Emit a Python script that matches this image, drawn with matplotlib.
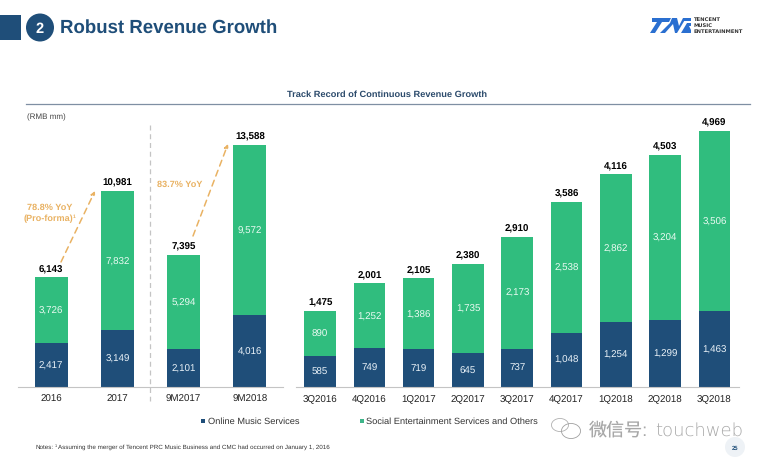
import matplotlib
matplotlib.use('Agg')
import matplotlib.pyplot as plt
from matplotlib.patches import Circle, Polygon, Rectangle, Arc

plt.rcParams['font.family'] = ['Liberation Sans', 'Noto Sans CJK SC', 'DejaVu Sans']
plt.rcParams['text.hinting'] = 'no_hinting'

W, H = 769, 464
NAVY = '#1f4e79'
GREEN = '#30bd7e'
GOLD = '#e9b263'
GREY = '#c4c4c4'

annual_labels = ['2016', '2017', '9M2017', '9M2018']
annual_music = [2417, 3149, 2101, 4016]
annual_social = [3726, 7832, 5294, 9572]
annual_total = [6143, 10981, 7395, 13588]

quarter_labels = ['3Q2016', '4Q2016', '1Q2017', '2Q2017', '3Q2017', '4Q2017', '1Q2018', '2Q2018', '3Q2018']
quarter_music = [585, 749, 719, 645, 737, 1048, 1254, 1299, 1463]
quarter_social = [890, 1252, 1386, 1735, 2173, 2538, 2862, 3204, 3506]
quarter_total = [1475, 2001, 2105, 2380, 2910, 3586, 4116, 4503, 4969]


def px_axes(fig, x0, x1, y_top, y_bottom):
    # axes placed by pixel box, y measured from the top of the image
    return fig.add_axes([x0 / W, 1 - y_bottom / H, (x1 - x0) / W, (y_bottom - y_top) / H])


def stacked(ax, labels, music, social, total, width, y_per_px):
    x = range(len(labels))
    ax.bar(x, music, width, color=NAVY)
    ax.bar(x, social, width, bottom=music, color=GREEN)
    for i in x:
        ax.text(i, music[i] / 2, f'{music[i]:,}', color='#eaf2f8', ha='center', va='center', fontsize=7.0)
        ax.text(i, music[i] + social[i] / 2, f'{social[i]:,}', color='#eafaf2', ha='center', va='center', fontsize=7.0)
        ax.text(i, total[i] + 4 * y_per_px, f'{total[i]:,}', color='black', ha='center', va='bottom',
                fontsize=7.0, fontweight='bold')
    ax.set_xticks(list(x))
    ax.set_xticklabels(labels, fontsize=7.0, color='#222222')
    ax.tick_params(axis='x', length=0, pad=5.5)
    ax.set_yticks([])
    for s in ['top', 'left', 'right']:
        ax.spines[s].set_visible(False)
    ax.spines['bottom'].set_color(GREY)
    ax.spines['bottom'].set_linewidth(0.8)


fig = plt.figure(figsize=(W / 100, H / 100), dpi=100)

# charts share the baseline at y=387.5px
ax1 = px_axes(fig, 18, 283, 120, 387.5)
y1 = 13588 / (387 - 145)
ax1.set_xlim(-0.5, 3.5)
ax1.set_ylim(0, 267.5 * y1)
stacked(ax1, annual_labels, annual_music, annual_social, annual_total, 0.5, y1)

ax2 = px_axes(fig, 296, 739, 120, 387.5)
y2 = 4969 / (387 - 131)
ax2.set_xlim(-0.49, 8.5)
ax2.set_ylim(0, 267.5 * y2)
stacked(ax2, quarter_labels, quarter_music, quarter_social, quarter_total, 0.64, y2)

# page furniture in pixel coordinates
ov = fig.add_axes([0, 0, 1, 1], zorder=5)
ov.set_xlim(0, W)
ov.set_ylim(H, 0)
ov.axis('off')

ov.add_patch(Rectangle((0, 16), 21, 25, color=NAVY, lw=0))
ov.add_patch(Circle((40, 28.5), 14, color=NAVY, lw=0))
ov.text(40, 29, '2', color='white', fontsize=10.5, fontweight='bold', ha='center', va='center')
ov.text(60, 28, 'Robust Revenue Growth', color=NAVY, fontsize=13.4, fontweight='bold', va='center')

ov.text(387.5, 95, 'Track Record of Continuous Revenue Growth', color='#2b4a6b', fontsize=6.7, fontweight='bold',
        ha='center', va='center')
ov.plot([26, 750], [104.5, 104.5], color='#7f8fa3', lw=0.9)
ov.text(27, 117.5, '(RMB mm)', color='#444444', fontsize=5.8, va='center')

ov.plot([150, 150], [126, 402], color=GREY, lw=0.9, ls=(0, (4, 3)))

for start, end in [((61, 263), (95, 192)), ((193, 237), (228, 145))]:
    ov.annotate('', xy=end, xytext=start,
                arrowprops=dict(arrowstyle='-|>', color=GOLD, lw=1.1, ls=(0, (4, 3)), mutation_scale=6,
                                shrinkA=0, shrinkB=0))
ov.text(49.5, 207.5, '78.8% YoY', color=GOLD, fontsize=6.6, fontweight='bold', ha='center', va='center')
ov.text(48, 219, '(Pro-forma)', color=GOLD, fontsize=6.6, fontweight='bold', ha='center', va='center')
ov.text(74.5, 216.5, '1', color=GOLD, fontsize=3.6, fontweight='bold', ha='center', va='center')
ov.text(180, 184.5, '83.7% YoY', color=GOLD, fontsize=6.6, fontweight='bold', ha='center', va='center')

ov.add_patch(Rectangle((200.5, 419.5), 4.5, 4.5, color=NAVY, lw=0))
ov.text(208, 422, 'Online Music Services', color='#333333', fontsize=6.7, va='center')
ov.add_patch(Rectangle((359.5, 419.5), 4.5, 4.5, color='#3fb58a', lw=0))
ov.text(366, 422, 'Social Entertainment Services and Others', color='#333333', fontsize=6.7, va='center')

ov.text(35, 447, 'Notes:', color='#333333', fontsize=4.5, va='center')
ov.text(55, 446, '1', color='#333333', fontsize=2.8, va='center')
ov.text(58, 447, 'Assuming the merger of Tencent PRC Music Business and CMC had occurred on January 1, 2016',
        color='#333333', fontsize=4.5, va='center')

# page number
ov.add_patch(Circle((735, 448), 10, color='#eef2f6', lw=0))
ov.text(735, 448, '25', color=NAVY, fontsize=4.2, fontweight='bold', ha='center', va='center')

# watermark
ov.add_patch(Arc((560, 426), 17, 13, color='#b0b0b0', lw=0.6))
ov.add_patch(Arc((571, 432), 19, 15, color='#a0a0a0', lw=0.6))
ov.text(589, 431, '微信号:', color='#a8a8a8', fontsize=13, va='center')
ov.text(655, 431, 'touchweb', color='#a8a8a8', fontsize=13, va='center',
        family=['DejaVu Sans'], fontweight='light')

# logo
LOGO = '#2a6fd0'
for pts in [[(652, 19), (671, 19), (669, 23), (662, 23), (655, 34), (650, 34), (657, 23), (652, 23)],
            [(660, 34), (670, 24), (672, 19), (677, 19), (679, 27), (683, 19), (686, 19), (677, 34), (675, 34), (673, 25), (665, 34)],
            [(681, 34), (687, 24), (691, 24), (691, 27), (689, 27), (691, 31), (691, 34)],
            [(684, 19), (691, 19), (691, 22), (683, 22)]]:
    ov.add_patch(Polygon(pts, color=LOGO, lw=0))
for y, t in zip([20, 26, 32], ['TENCENT', 'MUSIC', 'ENTERTAINMENT']):
    ov.text(694, y, t, color='#333333', fontsize=3.8, fontweight='bold', va='center', family=['DejaVu Sans'])

fig.savefig('out.png', dpi=100)
